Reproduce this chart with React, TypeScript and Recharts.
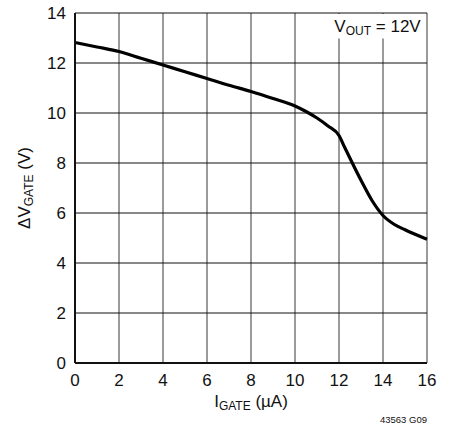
import { LineChart, Line, XAxis, YAxis, CartesianGrid, ReferenceArea, Label } from 'recharts'

const iGate = [0, 1, 2, 3, 4, 5, 6, 7, 8, 9, 10, 10.5, 11, 11.5, 12, 12.25, 12.5, 13, 13.5, 14, 14.5, 15, 16]
const dvGate = [12.82, 12.64, 12.46, 12.19, 11.92, 11.65, 11.38, 11.11, 10.86, 10.58, 10.28, 10.06, 9.8, 9.48, 9.1, 8.64, 8.19, 7.31, 6.5, 5.9, 5.55, 5.33, 4.95]
const xTicks = [0, 2, 4, 6, 8, 10, 12, 14, 16]
const yTicks = [0, 2, 4, 6, 8, 10, 12, 14]

const data = iGate.map((x, i) => ({ x, v: dvGate[i] }))

const font = '"Liberation Sans", Arial, sans-serif'

export default function App() {
  return (
    <div style={{ position: 'absolute', left: 0, top: 0, width: 456, height: 432, background: '#fff' }}>
      <LineChart width={456} height={432} data={data} margin={{ top: 13, right: 29, left: 0, bottom: 0 }}>
        <CartesianGrid horizontal={false} stroke="#7a7a7a" strokeWidth={1.5} />
        <CartesianGrid vertical={false} stroke="#111" strokeWidth={1} />
        <ReferenceArea
          x1={11.73}
          x2={15.94}
          y1={12.98}
          y2={13.96}
          fill="#fff"
          fillOpacity={1}
          stroke="none"
          ifOverflow="visible"
          label={{
            content: (p: any) => {
              const vb = p.viewBox
              return (
                <text x={vb.x + vb.width - 5} y={32} textAnchor="end" fontFamily={font} fontSize={17} fill="#111">
                  V<tspan fontSize={12} dy={3}>OUT</tspan>
                  <tspan dy={-3}> = 12V</tspan>
                </text>
              )
            },
          }}
        />
        <XAxis
          type="number"
          dataKey="x"
          domain={[0, 16]}
          ticks={xTicks}
          height={69}
          tickLine={false}
          tickSize={0}
          tickMargin={11}
          axisLine={{ stroke: '#111', strokeWidth: 2 }}
          tick={{ fill: '#111', fontSize: 17, fontFamily: font }}
          interval={0}
        >
          <Label
            content={(p: any) => {
              const vb = p.viewBox
              return (
                <g>
                  <text x={vb.x + vb.width / 2} y={vb.y + 44} textAnchor="middle" fontFamily={font} fontSize={17} fill="#111">
                    I<tspan fontSize={12} dy={3}>GATE</tspan>
                    <tspan dy={-3}> (µA)</tspan>
                  </text>
                  <text x={vb.x + vb.width} y={vb.y + 60} textAnchor="end" fontFamily={font} fontSize={9.5} fill="#111">
                    43563 G09
                  </text>
                </g>
              )
            }}
          />
        </XAxis>
        <YAxis
          type="number"
          domain={[0, 14]}
          ticks={yTicks}
          width={75}
          tickLine={false}
          tickSize={0}
          tickMargin={9}
          axisLine={{ stroke: '#111', strokeWidth: 2 }}
          tick={{ fill: '#111', fontSize: 17, fontFamily: font }}
          interval={0}
        >
          <Label
            content={(p: any) => {
              const vb = p.viewBox
              const cx = 30
              const cy = vb.y + vb.height / 2
              return (
                <text
                  x={cx}
                  y={cy}
                  transform={`rotate(-90 ${cx} ${cy})`}
                  textAnchor="middle"
                  fontFamily={font}
                  fontSize={17}
                  fill="#111"
                >
                  ΔV<tspan fontSize={12} dy={3}>GATE</tspan>
                  <tspan dy={-3}> (V)</tspan>
                </text>
              )
            }}
          />
        </YAxis>
        <Line
          type="monotone"
          dataKey="v"
          stroke="#000"
          strokeWidth={3.2}
          dot={false}
          isAnimationActive={false}
        />
      </LineChart>
    </div>
  )
}
